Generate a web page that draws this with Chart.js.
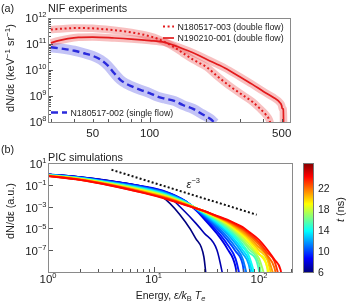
<!DOCTYPE html>
<html>
<head>
<meta charset="utf-8">
<script src="https://cdn.jsdelivr.net/npm/chart.js@4.4.1/dist/chart.umd.min.js"></script>
<style>
  html, body { margin: 0; padding: 0; background: #fff; overflow: hidden; }
  #wrap { position: relative; width: 350px; height: 305px; }
  #wrap canvas { position: absolute; left: 0; }
  #nif { top: 0; }
  #pic { top: 142px; }
</style>
</head>
<body>
<div id="wrap">
  <canvas id="nif" width="350" height="142"></canvas>
  <canvas id="pic" width="350" height="163"></canvas>
</div>
<script>
// ---- (a) NIF experiments: energy (keV) and dN/dε (keV^-1 sr^-1) ----
const nifTicksX = [50, 100, 500];
const nifTicksY = [1e8, 1e9, 1e10, 1e11, 1e12];

const dottedEnergy = [30, 35, 40, 50, 60, 70, 80, 90, 100, 110, 120, 135, 150, 170, 200, 230, 270, 310, 350, 380, 410, 430, 442];
const dottedFlux   = [3.6e11, 3.9e11, 4.1e11, 4.0e11, 3.6e11, 3.2e11, 2.8e11, 2.4e11, 2.0e11, 1.6e11, 1.2e11, 7.5e10, 4.5e10, 2.5e10, 1.3e10, 5.5e9, 2.2e9, 1.1e9, 6e8, 3.5e8, 2e8, 1.2e8, 6e7];

const solidEnergy = [30, 33, 37, 42, 50, 65, 80, 100, 120, 140, 160, 180, 200, 250, 300, 350, 400, 450, 490, 500, 503, 510, 512];
const solidFlux   = [1.1e11, 1.35e11, 1.6e11, 1.8e11, 1.85e11, 1.7e11, 1.55e11, 1.35e11, 1.15e11, 8e10, 5.5e10, 3.8e10, 2.6e10, 1.2e10, 5.5e9, 2.8e9, 1.5e9, 9e8, 5.5e8, 4.2e8, 3.3e8, 3.1e8, 5e7];

const singleEnergy = [30, 35, 40, 45, 50, 55, 60, 65, 70, 75, 80, 90, 100, 110, 120, 135, 150, 170, 190, 210, 222];
const singleFlux   = [7.5e10, 6.5e10, 5.5e10, 4.4e10, 3.5e10, 2.5e10, 1.5e10, 7.5e9, 4.2e9, 3e9, 2.4e9, 1.7e9, 1.3e9, 9.5e8, 8e8, 6.5e8, 4.5e8, 3.2e8, 2e8, 1.3e8, 9e7];

// ---- (b) PIC simulations: energy (ε/kBTe) and dN/dε (a.u.) ----
const picTicksX = [1, 10, 100];
const picTicksY = [1e1, 1e-1, 1e-3, 1e-5, 1e-7];
const cbTicks = [6, 10, 14, 18, 22];
const cbRange = [6, 26.7];

const picEnergy = [1, 2, 4, 8, 13, 20, 25, 30, 40, 50, 60, 70, 80, 100, 120, 140, 160];
const picTimes  = [6, 7, 8, 9, 10, 11, 12, 13, 14, 15, 16, 17, 18, 19, 20, 21, 22, 23, 24];
const picCutoff = [32, 47, 63, 68, 74, 80, 86, 92, 96, 102, 108, 118, 122, 128, 136, 145, 150, 160, 168];

const spec06 = [0.93, 0.52, 0.22, 5.6e-2, 4.5e-3, 4.0e-5, 1.3e-6, 2.5e-8];
const spec07 = [0.93, 0.51, 0.21, 6.8e-2, 1.4e-2, 3.2e-4, 3.2e-5, 4.0e-6, 1.0e-7];
const spec08 = [0.91, 0.50, 0.21, 7.1e-2, 2.4e-2, 3.2e-3, 5.0e-4, 7.9e-5, 3.2e-6, 1.4e-7, 2.8e-9];
const spec09 = [0.89, 0.48, 0.195, 6.6e-2, 2.2e-2, 3.2e-3, 5.6e-4, 1.1e-4, 5.6e-6, 3.5e-7, 1.6e-8];
const spec10 = [0.87, 0.46, 0.18, 6.0e-2, 1.9e-2, 3.2e-3, 6.3e-4, 1.4e-4, 1.0e-5, 8.9e-7, 7.9e-8, 5.0e-9];
const spec11 = [0.85, 0.45, 0.17, 5.5e-2, 1.8e-2, 3.0e-3, 6.8e-4, 1.7e-4, 1.5e-5, 1.7e-6, 1.8e-7, 1.6e-8];
const spec12 = [0.83, 0.43, 0.16, 5.0e-2, 1.6e-2, 2.8e-3, 7.1e-4, 2.0e-4, 2.2e-5, 3.2e-6, 4.0e-7, 5.0e-8, 5.0e-9];
const spec13 = [0.81, 0.42, 0.15, 4.6e-2, 1.4e-2, 2.7e-3, 7.2e-4, 2.3e-4, 3.0e-5, 4.8e-6, 7.1e-7, 1.0e-7, 1.3e-8];
const spec14 = [0.79, 0.40, 0.14, 4.2e-2, 1.3e-2, 2.5e-3, 7.4e-4, 2.6e-4, 4.0e-5, 7.1e-6, 1.3e-6, 2.0e-7, 3.2e-8];
const spec15 = [0.78, 0.39, 0.14, 3.8e-2, 1.2e-2, 2.4e-3, 7.6e-4, 2.9e-4, 5.0e-5, 1.0e-5, 2.0e-6, 3.5e-7, 6.3e-8, 1.3e-9];
const spec16 = [0.76, 0.37, 0.13, 3.5e-2, 1.1e-2, 2.2e-3, 7.6e-4, 3.2e-4, 6.3e-5, 1.4e-5, 3.2e-6, 6.3e-7, 1.3e-7, 6.3e-9];
const spec17 = [0.74, 0.36, 0.12, 3.2e-2, 1.0e-2, 2.1e-3, 7.6e-4, 3.3e-4, 7.6e-5, 1.9e-5, 4.5e-6, 1.0e-6, 2.2e-7, 1.8e-8];
const spec18 = [0.72, 0.35, 0.11, 3.0e-2, 9.1e-3, 2.0e-3, 7.6e-4, 3.5e-4, 8.9e-5, 2.5e-5, 6.3e-6, 1.6e-6, 4.0e-7, 4.0e-8, 2.0e-9];
const spec19 = [0.71, 0.34, 0.11, 2.8e-2, 8.3e-3, 1.9e-3, 7.6e-4, 3.7e-4, 1.0e-4, 3.0e-5, 8.5e-6, 2.4e-6, 6.8e-7, 5.0e-8, 2.8e-9];
const spec20 = [0.69, 0.32, 0.10, 2.5e-2, 7.6e-3, 1.8e-3, 7.6e-4, 3.8e-4, 1.1e-4, 3.5e-5, 1.1e-5, 3.5e-6, 1.1e-6, 1.0e-7, 1.3e-8];
const spec21 = [0.68, 0.31, 9.8e-2, 2.3e-2, 6.9e-3, 1.7e-3, 7.6e-4, 3.9e-4, 1.2e-4, 4.2e-5, 1.4e-5, 5.0e-6, 1.7e-6, 1.8e-7, 2.5e-8];
const spec22 = [0.66, 0.30, 9.1e-2, 2.1e-2, 6.3e-3, 1.6e-3, 7.4e-4, 4.0e-4, 1.3e-4, 4.8e-5, 1.8e-5, 7.1e-6, 2.5e-6, 3.2e-7, 3.2e-8, 2.5e-9];
const spec23 = [0.65, 0.29, 8.7e-2, 1.9e-2, 5.8e-3, 1.5e-3, 7.2e-4, 4.0e-4, 1.3e-4, 5.5e-5, 2.2e-5, 9.5e-6, 3.5e-6, 5.2e-7, 6.0e-8, 1.0e-8];
const spec24 = [0.63, 0.28, 8.1e-2, 1.8e-2, 5.2e-3, 1.4e-3, 7.1e-4, 4.0e-4, 1.4e-4, 6.3e-5, 2.8e-5, 1.3e-5, 5.0e-6, 8.9e-7, 1.1e-7, 1.4e-8, 1.6e-9];
const picSpectra = [spec06, spec07, spec08, spec09, spec10, spec11, spec12, spec13, spec14, spec15,
                    spec16, spec17, spec18, spec19, spec20, spec21, spec22, spec23, spec24];

// ε^-3 guide line
const slopeEnergy = [4, 95];
const slopeFlux = [2.4, 1.8e-4];

// --- estilos y utilidades ---
const FONT = '"Liberation Sans", Arial, Helvetica, sans-serif';
const INK = '#1c1c1c';
const RED = '#e31a1c';
const BLUE = '#2b2bdc';
const styDotted = { color: RED, width: 2, dash: [2, 2.6] };
const stySolid = { color: RED, width: 1.7, dash: [] };
const styDashed = { color: BLUE, width: 2.4, dash: [7, 4] };
const OFF = 1e-10; // below the axis: spectrum has dropped to zero

Chart.defaults.font.family = FONT;

function jet(v) {
  const c = x => Math.round(255 * Math.max(0, Math.min(1, 1.5 - Math.abs(x))));
  return `rgb(${c(4 * v - 3)},${c(4 * v - 2)},${c(4 * v - 1)})`;
}

function points(xs, ys) {
  return xs.map((x, i) => ({ x, y: ys[i] }));
}

function richText(ctx, parts, x, y, align = 'left', angle = 0) {
  ctx.save();
  ctx.translate(x, y);
  ctx.rotate(angle);
  ctx.textBaseline = 'alphabetic';
  ctx.textAlign = 'left';
  const fontOf = p => `${p.italic ? 'italic ' : ''}${p.size}px ${FONT}`;
  let w = 0;
  parts.forEach(p => { ctx.font = fontOf(p); w += ctx.measureText(p.t).width; });
  let cx = align === 'right' ? -w : align === 'center' ? -w / 2 : 0;
  parts.forEach(p => {
    ctx.font = fontOf(p);
    ctx.fillStyle = p.color || INK;
    ctx.fillText(p.t, cx, p.dy || 0);
    cx += ctx.measureText(p.t).width;
  });
  ctx.restore();
}

function powParts(v, size, supSize) {
  const e = Math.round(Math.log10(v));
  return [{ t: '10', size }, { t: String(e).replace('-', '\u2212'), size: supSize, dy: -size * 0.42 }];
}

function logSteps(min, max) {
  const out = [];
  for (let d = Math.floor(Math.log10(min)); d <= Math.ceil(Math.log10(max)); d++) {
    for (let m = 1; m <= 9; m++) {
      const v = m * Math.pow(10, d);
      if (v >= min * 0.999 && v <= max * 1.001) out.push({ v, major: m === 1 });
    }
  }
  return out;
}

function drawFrame(chart, xTicks, yTicks) {
  const { ctx, chartArea: a, scales } = chart;
  ctx.save();
  ctx.strokeStyle = '#555';
  ctx.lineWidth = 1;
  ctx.beginPath();
  xTicks.forEach(t => {
    const px = Math.round(scales.x.getPixelForValue(t.v)) + 0.5;
    ctx.moveTo(px, a.bottom);
    ctx.lineTo(px, a.bottom - (t.major ? 5 : 3));
  });
  yTicks.forEach(t => {
    const py = Math.round(scales.y.getPixelForValue(t.v)) + 0.5;
    ctx.moveTo(a.left, py);
    ctx.lineTo(a.left + (t.major ? 5 : 3), py);
  });
  ctx.stroke();
  ctx.strokeStyle = '#8a8a8a';
  ctx.strokeRect(a.left + 0.5, a.top + 0.5, a.right - a.left - 1, a.bottom - a.top);
  ctx.restore();
}

function legendEntry(ctx, x0, x1, y, sty, label) {
  ctx.save();
  ctx.strokeStyle = sty.color;
  ctx.lineWidth = sty.width;
  ctx.setLineDash(sty.dash);
  ctx.beginPath();
  ctx.moveTo(x0, y);
  ctx.lineTo(x1, y);
  ctx.stroke();
  ctx.restore();
  richText(ctx, [{ t: label, size: 8.8 }], x1 + 3.5, y + 3.2);
}

function lineSet(data, sty) {
  return {
    data, borderColor: sty.color, borderWidth: sty.width, borderDash: sty.dash,
    pointRadius: 0, fill: false, cubicInterpolationMode: 'monotone', clip: 0
  };
}

function bandSet(data, color, width) {
  return {
    data, borderColor: color, borderWidth: width, borderJoinStyle: 'round',
    pointRadius: 0, fill: false, cubicInterpolationMode: 'monotone', clip: 0
  };
}

function quietScale(type, min, max, extra) {
  return Object.assign({
    type, min, max,
    ticks: { display: false },
    grid: { display: false },
    border: { display: false }
  }, extra);
}

// --- PANEL (a) ---
const nifDecor = {
  id: 'nifDecor',
  afterDraw(chart) {
    const { ctx, chartArea: a, scales: { x, y } } = chart;
    drawFrame(chart, logSteps(x.min, x.max), logSteps(y.min, y.max));
    nifTicksX.forEach(v => richText(ctx, [{ t: String(v), size: 11.5 }], x.getPixelForValue(v), a.bottom + 14.5, 'center'));
    nifTicksY.forEach(v => richText(ctx, powParts(v, 11.5, 7.5), a.left - 1.5, y.getPixelForValue(v) + 4.1, 'right'));

    richText(ctx, [{ t: '(a)', size: 10.8 }], 1, 11.5);
    richText(ctx, [{ t: 'NIF experiments', size: 10.8 }], a.left, 12);
    richText(ctx, [
      { t: 'dN/d\u03b5 (keV', size: 11 },
      { t: '\u22121', size: 8, dy: -4.5 },
      { t: ' sr', size: 11 },
      { t: '\u22121', size: 8, dy: -4.5 },
      { t: ')', size: 11 }
    ], 14, 68, 'center', -Math.PI / 2);

    legendEntry(ctx, a.right - 128, a.right - 117, a.top + 8.5, styDotted, 'N180517-003 (double flow)');
    legendEntry(ctx, a.right - 128, a.right - 117, a.top + 20, stySolid, 'N190210-001 (double flow)');
    legendEntry(ctx, a.left + 3, a.left + 19, a.bottom - 9.5, styDashed, 'N180517-002 (single flow)');
  }
};

new Chart(document.getElementById('nif'), {
  type: 'line',
  data: {
    datasets: [
      lineSet(points(dottedEnergy, dottedFlux), styDotted),
      lineSet(points(solidEnergy, solidFlux), stySolid),
      lineSet(points(singleEnergy, singleFlux), styDashed),
      bandSet(points(dottedEnergy, dottedFlux), 'rgba(235,80,80,0.36)', 7.5),
      bandSet(points(solidEnergy, solidFlux), 'rgba(235,80,80,0.36)', 7.5),
      bandSet(points(singleEnergy, singleFlux), 'rgba(90,90,230,0.36)', 10)
    ]
  },
  options: {
    responsive: false,
    animation: false,
    events: [],
    layout: { padding: { left: 0, right: 59, top: 18, bottom: 0 } },
    plugins: { legend: { display: false }, tooltip: { enabled: false } },
    scales: {
      x: quietScale('logarithmic', 29, 560, { afterFit: s => { s.height = 20; } }),
      y: quietScale('logarithmic', 1e8, 1e12, { afterFit: s => { s.width = 48; } })
    }
  },
  plugins: [nifDecor]
});

// --- PANEL (b) ---
const picDecor = {
  id: 'picDecor',
  afterDraw(chart) {
    const { ctx, chartArea: a, scales: { x, y, cb } } = chart;
    drawFrame(chart, logSteps(x.min, x.max), picTicksY.map(v => ({ v, major: true })));
    picTicksX.forEach(v => richText(ctx, powParts(v, 11.5, 7.5), x.getPixelForValue(v), a.bottom + 10.5, 'center'));
    picTicksY.forEach(v => richText(ctx, powParts(v, 11.5, 7.5), a.left - 1.5, y.getPixelForValue(v) + 5, 'right'));

    richText(ctx, [{ t: '(b)', size: 10.8 }], 1, 11);
    richText(ctx, [{ t: 'PIC simulations', size: 10.8 }], a.left, 19);
    richText(ctx, [{ t: 'dN/d\u03b5 (a.u.)', size: 10.8 }], 13.5, 69, 'center', -Math.PI / 2);
    richText(ctx, [
      { t: 'Energy, ', size: 10.5 },
      { t: '\u03b5/k', size: 10.5, italic: true },
      { t: 'B', size: 7.5, dy: 2.5 },
      { t: ' T', size: 10.5, italic: true },
      { t: 'e', size: 7.5, italic: true, dy: 2.5 }
    ], (a.left + a.right) / 2, a.bottom + 26.5, 'center');

    // ε^-3 label beside the guide line
    richText(ctx, [
      { t: '\u03b5', size: 11, italic: true },
      { t: '\u22123', size: 7.5, dy: -5 }
    ], x.getPixelForValue(20.6), y.getPixelForValue(0.048));

    // colour bar on the t axis
    const top = cb.getPixelForValue(cb.max);
    const bot = cb.getPixelForValue(cb.min);
    const bx = cb.left + 10;
    const g = ctx.createLinearGradient(0, bot, 0, top);
    for (let i = 0; i <= 40; i++) g.addColorStop(i / 40, jet(i / 40));
    ctx.save();
    ctx.fillStyle = g;
    ctx.fillRect(bx, top, 10.5, bot - top);
    ctx.strokeStyle = '#777';
    ctx.lineWidth = 1;
    ctx.strokeRect(bx + 0.5, top + 0.5, 10, bot - top);
    ctx.restore();
    cbTicks.forEach(t => richText(ctx, [{ t: String(t), size: 10.5 }], bx + 15, cb.getPixelForValue(t) + 3.8));
    richText(ctx, [{ t: 't', size: 11, italic: true }, { t: ' (ns)', size: 11 }], cb.left + 51, (top + bot) / 2 - 8, 'center', -Math.PI / 2);
  }
};

const picSets = [lineSet(points(slopeEnergy, slopeFlux), { color: '#111', width: 2, dash: [2, 2.2] })];
for (let i = picTimes.length - 1; i >= 0; i--) {
  const pts = points(picEnergy.slice(0, picSpectra[i].length), picSpectra[i]);
  pts.push({ x: picCutoff[i], y: OFF });
  const col = jet((picTimes[i] - cbRange[0]) / (cbRange[1] - cbRange[0]));
  picSets.push(lineSet(pts, { color: col, width: i < 2 ? 1.6 : 1.9, dash: [] }));
}

new Chart(document.getElementById('pic'), {
  type: 'line',
  data: { datasets: picSets },
  options: {
    responsive: false,
    animation: false,
    events: [],
    layout: { padding: { left: 0, right: 0, top: 21, bottom: 0 } },
    plugins: { legend: { display: false }, tooltip: { enabled: false } },
    scales: {
      x: quietScale('logarithmic', 1, 210, { afterFit: s => { s.height = 33; } }),
      y: quietScale('logarithmic', 1e-9, 10, { afterFit: s => { s.width = 48; } }),
      cb: quietScale('linear', cbRange[0], cbRange[1], { position: 'right', afterFit: s => { s.width = 57; } })
    }
  },
  plugins: [picDecor]
});
</script>
</body>
</html>
